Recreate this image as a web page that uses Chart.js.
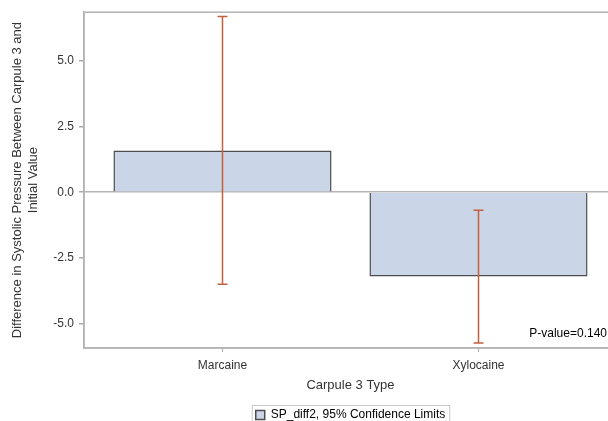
<!DOCTYPE html>
<html>
<head>
<meta charset="utf-8">
<script src="https://cdn.jsdelivr.net/npm/chart.js@4.4.1/dist/chart.umd.min.js"></script>
<style>
  body { margin: 0; background: #fff; overflow: hidden; }
  #wrap { width: 640px; height: 431px; }
</style>
</head>
<body>
<div id="wrap"><canvas id="chart"></canvas></div>
<script>
// данные
const categories = ['Marcaine', 'Xylocaine'];
const meanDiff = [1.58, -3.20];
const lowerCL = [-3.49, -5.72];
const upperCL = [6.67, -0.68];
const yTicks = [-5, -2.5, 0, 2.5, 5];
const pValueText = 'P-value=0.140';

const FONT = '"Liberation Sans", Arial, sans-serif';

// усы доверительных интервалов
const errorBars = {
  id: 'errorBars',
  afterDatasetsDraw(chart) {
    const { ctx, scales: { x, y } } = chart;
    ctx.save();
    ctx.strokeStyle = '#c4603e';
    ctx.lineWidth = 1.5;
    categories.forEach((c, i) => {
      const px = x.getPixelForValue(i + 1);
      const lo = y.getPixelForValue(lowerCL[i]);
      const hi = y.getPixelForValue(upperCL[i]);
      ctx.beginPath();
      ctx.moveTo(px, lo); ctx.lineTo(px, hi);
      ctx.moveTo(px - 5, lo); ctx.lineTo(px + 5, lo);
      ctx.moveTo(px - 5, hi); ctx.lineTo(px + 5, hi);
      ctx.stroke();
    });
    ctx.restore();
  }
};

// рамка графика, рамка легенды, p-value
const extras = {
  id: 'extras',
  afterDraw(chart) {
    const { ctx, chartArea: a } = chart;
    ctx.save();
    ctx.strokeStyle = '#b4b4b4';
    ctx.lineWidth = 1.5;
    ctx.strokeRect(a.left, a.top, a.right - a.left, a.bottom - a.top);

    ctx.fillStyle = '#000';
    ctx.font = '12px ' + FONT;
    ctx.textAlign = 'right';
    ctx.textBaseline = 'middle';
    ctx.fillText(pValueText, a.right - 10, a.bottom - 14);

    const hb = chart.legend.legendHitBoxes[0];
    if (hb) {
      ctx.strokeStyle = '#c8c8c8';
      ctx.lineWidth = 1;
      ctx.strokeRect(hb.left - 3.5, hb.top - 3.5, hb.width + 8, hb.height + 12);
    }
    ctx.restore();
  }
};

new Chart(document.getElementById('chart'), {
  type: 'bar',
  data: {
    datasets: [{
      label: 'SP_diff2, 95% Confidence Limits',
      data: categories.map((c, i) => ({ x: i + 1, y: meanDiff[i] })),
      backgroundColor: '#cbd5e8',
      borderColor: '#4d4d4d',
      borderWidth: 1.5,
      categoryPercentage: 1,
      barPercentage: 0.852
    }]
  },
  options: {
    responsive: true,
    maintainAspectRatio: false,
    animation: false,
    layout: { padding: { top: 11, right: 23, left: 0, bottom: 0 } },
    plugins: {
      tooltip: { enabled: false },
      legend: {
        position: 'bottom',
        fullSize: false,
        labels: {
          boxWidth: 9,
          boxHeight: 9,
          padding: 1,
          color: '#000',
          font: { family: FONT, size: 12 }
        }
      }
    },
    scales: {
      x: {
        type: 'linear',
        offset: false,
        min: 0.459,
        max: 2.541,
        afterBuildTicks: s => { s.ticks = categories.map((c, i) => ({ value: i + 1 })); },
        afterFit: s => { s.height = 60; },
        ticks: {
          callback: (v, i) => categories[i],
          color: '#333',
          padding: 6,
          maxRotation: 0,
          font: { family: FONT, size: 12 }
        },
        grid: { display: true, drawOnChartArea: false, offset: false, tickLength: 4, tickColor: '#aaa' },
        border: { color: '#b4b4b4', width: 1.5 },
        title: {
          display: true,
          text: 'Carpule 3 Type',
          color: '#333',
          padding: { top: 0, bottom: 15 },
          font: { family: FONT, size: 13 }
        }
      },
      y: {
        min: -5.91,
        max: 6.83,
        afterBuildTicks: s => { s.ticks = yTicks.map(v => ({ value: v })); },
        afterFit: s => { s.width = 84; },
        ticks: {
          callback: v => v.toFixed(1),
          color: '#333',
          padding: 5,
          font: { family: FONT, size: 12 }
        },
        grid: {
          color: c => (c.tick && c.tick.value === 0 ? '#b5b5b5' : 'rgba(0,0,0,0)'),
          lineWidth: 1.5,
          tickLength: 5,
          tickColor: '#aaa'
        },
        border: { color: '#b4b4b4', width: 1.5 },
        title: {
          display: true,
          text: ['Difference in Systolic Pressure Between Carpule 3 and', 'Initial Value'],
          color: '#333',
          padding: { top: 10, bottom: 0 },
          font: { family: FONT, size: 13 }
        }
      }
    }
  },
  plugins: [errorBars, extras]
});
</script>
</body>
</html>
